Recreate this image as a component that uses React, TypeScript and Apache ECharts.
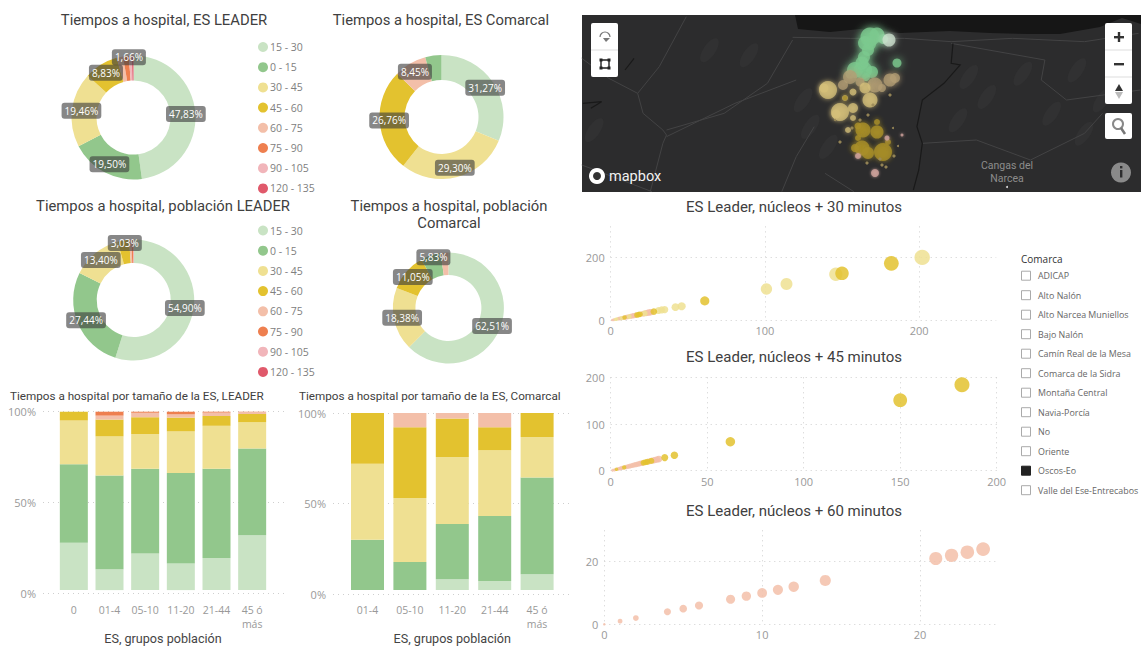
import React, { useEffect, useRef } from "react";
import * as echarts from "echarts";

const ranges = ["15 - 30", "0 - 15", "30 - 45", "45 - 60", "60 - 75", "75 - 90", "90 - 105", "120 - 135"];
const rangeColors = ["#c9e3c4", "#92c78c", "#efe092", "#e3c22f", "#f3bfa9", "#ee7f4f", "#f1b5ba", "#e0596b"];

const esLeaderPie = [47.83, 19.5, 19.46, 8.83, 1.66, 1.5, 0.8, 0.42];
const esComarcalNames = ["15 - 30", "30 - 45", "45 - 60", "60 - 75", "0 - 15"];
const esComarcalPie = [31.27, 29.3, 26.76, 8.45, 4.22];
const popLeaderPie = [54.9, 27.44, 13.4, 3.03, 0.6, 0.4, 0.15, 0.08];
const popComarcalNames = ["15 - 30", "30 - 45", "45 - 60", "0 - 15", "60 - 75"];
const popComarcalPie = [62.51, 18.38, 11.05, 5.83, 2.23];

const leaderCats = ["0", "01-4", "05-10", "11-20", "21-44", "45 ó\nmás"];
const leader1530 = [26.6, 11.7, 20.5, 14.9, 18, 30.8];
const leader015 = [44, 52.5, 47.5, 50.8, 50, 48.6];
const leader3045 = [24.4, 22, 19.5, 23.3, 24.1, 14.7];
const leader4560 = [5, 9.4, 9.4, 7.7, 5.5, 4.6];
const leader6075 = [0, 2.2, 2.5, 1.8, 1.9, 1.1];
const leader7590 = [0, 2.2, 0.6, 1.5, 0.5, 0.2];

const comarcalCats = ["01-4", "05-10", "11-20", "21-44", "45 ó\nmás"];
const comarcal1530 = [0, 0, 6.1, 5.1, 9];
const comarcal015 = [28.5, 15.8, 31.2, 36.8, 54.6];
const comarcal3045 = [42.8, 36.2, 37.9, 37.1, 22.8];
const comarcal4560 = [28.7, 39.9, 21.7, 13, 13.6];
const comarcal6075 = [0, 8.1, 3.1, 8, 0];

const min30Light = [[202, 201], [146, 147], [114, 116], [101, 100], [46, 45], [42, 42], [35, 34], [33, 33], [31, 31], [22, 22], [12, 12], [7, 7], [4, 4], [3, 3]];
const min30Dark = [[182, 182], [150, 150], [61, 62], [28, 28], [19, 19], [18, 18], [17, 17], [9, 9]];
const min30Salmon = [[26, 26], [25, 25], [24, 24], [23, 23], [21, 21], [16, 16], [15, 15], [14, 14], [13, 13], [11, 11], [10, 10], [8, 8], [6, 6], [5, 5], [2, 2], [1, 1]];

const min45Dark = [[182, 184], [150, 151], [62, 62], [33, 33], [28, 28], [21, 21], [19, 19], [18, 18], [17, 17], [7, 7], [3, 3]];
const min45Salmon = [[25, 25], [24, 24], [23, 23], [22, 22], [20, 20], [16, 16], [15, 15], [14, 14], [13, 13], [12, 12], [11, 11], [10, 10], [9, 9], [8, 8], [6, 6], [5, 5], [4, 4], [2, 2], [1, 1]];

const min60Salmon = [[0, 0], [1, 1], [2, 2], [4, 4], [5, 5], [6, 6], [8, 8], [9, 9], [10, 10], [11, 11], [12, 12], [14, 14], [21, 21], [22, 22], [23, 23], [24, 24]];

const comarcas = ["ADICAP", "Alto Nalón", "Alto Narcea Muniellos", "Bajo Nalón", "Camín Real de la Mesa", "Comarca de la Sidra", "Montaña Central", "Navia-Porcía", "No", "Oriente", "Oscos-Eo", "Valle del Ese-Entrecabos"];
const comarcaSelected = "Oscos-Eo";

// x, y in map units, bubble diameter
const mapGreen = [[70, 17, 19], [77, 15, 15], [65, 23, 14], [70, 24, 12], [68, 30, 12], [64, 37, 12], [62, 43, 13], [55, 50, 16], [63, 50, 18], [72, 52, 12], [50, 54, 9], [66, 57, 8], [97, 43, 9], [83, 19, 10]];
const mapPale = [[89, 20, 13]];
const mapLight = [[28, 70, 18], [24, 68, 9], [40, 92, 18], [36, 94, 9], [70, 80, 15], [53, 72, 7], [53, 88, 10], [65, 68, 11], [45, 78, 6], [53, 98, 6], [48, 110, 6]];
const mapTan = [[50, 57, 14], [43, 65, 10], [75, 65, 15], [90, 60, 13], [95, 58, 10], [60, 62, 9], [82, 68, 8]];
const mapDark = [[63, 110, 15], [58, 106, 7], [77, 112, 13], [77, 102, 6], [58, 118, 6], [62, 128, 15], [68, 133, 12], [83, 132, 18], [88, 122, 6], [55, 128, 8], [45, 78, 5]];
const mapRose = [[75, 153, 8], [87, 118, 5], [58, 136, 6], [102, 115, 3]];
const mapSmall = [[93, 108, 2], [98, 126, 2], [82, 145, 3], [86, 147, 3], [67, 143, 3], [80, 139, 3], [94, 136, 3], [52, 108, 3], [40, 122, 3], [35, 100, 2], [60, 100, 3], [68, 95, 3], [73, 85, 3], [90, 75, 3]];

const DIN = "Roboto, 'Noto Sans', sans-serif";
const SEGOE = "'Open Sans', 'Noto Sans', sans-serif";
const colorOf = (n: string) => rangeColors[ranges.indexOf(n)];
const pct = (v: number) => v.toFixed(2).replace(".", ",") + "%";

function pie(names: string[], vals: number[], center: number[], radius: number[], minLabel: number, shifts: Record<number, number[]>) {
  return {
    type: "pie", center, radius, startAngle: 90, avoidLabelOverlap: false, silent: true,
    label: {
      show: true, position: "inside", color: "#fff", fontFamily: SEGOE, fontSize: 10,
      backgroundColor: "rgba(62,62,62,0.62)", padding: [3, 3], borderRadius: 3,
      formatter: (p: any) => pct(p.value),
    },
    labelLine: { show: false },
    labelLayout: (p: any) => { const s = shifts[p.dataIndex]; return s ? { dx: s[0], dy: s[1] } : {}; },
    data: names.map((n, i) => ({
      name: n, value: vals[i], itemStyle: { color: colorOf(n) },
      label: { show: vals[i] >= minLabel },
    })),
  };
}

function legend(top: number) {
  return {
    orient: "vertical", left: 253, top, icon: "circle", itemWidth: 10, itemHeight: 10, itemGap: 9.2,
    selectedMode: false, data: ranges,
    textStyle: { color: "#808080", fontSize: 10.5, fontFamily: SEGOE, padding: [0, 0, 0, -3] },
  };
}

function stack(name: string, data: number[], xi: number) {
  return {
    type: "bar", name, stack: "s" + xi, xAxisIndex: xi, yAxisIndex: xi, barWidth: xi === 1 ? 28 : 33,
    itemStyle: { color: colorOf(name) }, silent: true, data,
  };
}

function scatter(data: number[][], color: string, ax: number, size: (v: number) => number, z = 3) {
  return {
    type: "scatter", xAxisIndex: ax, yAxisIndex: ax, data, z, silent: true,
    symbolSize: (v: number[]) => size(v[0]),
    itemStyle: { color, opacity: 0.85 },
  };
}

function mapDots(data: number[][], color: string, blur: number, opacity: number) {
  return {
    type: "scatter", xAxisIndex: 7, yAxisIndex: 7, data, silent: true,
    symbolSize: (v: number[]) => v[2],
    itemStyle: { color, opacity, shadowBlur: blur, shadowColor: color },
  };
}

const axisText = { color: "#999", fontSize: 11, fontFamily: SEGOE };
const dotted = { show: true, lineStyle: { color: "#cfcfcf", type: [1, 4], width: 1 } };

function valX(gi: number, max: number, interval: number, margin = 5) {
  return {
    type: "value", gridIndex: gi, min: 0, max, interval,
    axisLine: { show: false }, axisTick: { show: false },
    axisLabel: { ...axisText, margin, showMaxLabel: max % interval === 0 },
    splitLine: { ...dotted, showMaxLine: max % interval === 0 },
  };
}
function valY(gi: number, max: number, interval: number, margin = 6) {
  return {
    type: "value", gridIndex: gi, min: 0, max, interval,
    axisLine: { show: false }, axisTick: { show: false },
    axisLabel: { ...axisText, margin, showMaxLabel: max % interval === 0 },
    splitLine: { ...dotted, showMaxLine: max % interval === 0 },
  };
}
function hiddenX(gi: number) { return { type: "value", gridIndex: gi, min: 0, max: 1, show: false }; }
function hiddenY(gi: number) { return { type: "value", gridIndex: gi, min: 0, max: 100, show: false }; }
function catX(gi: number, cats: string[]) {
  return {
    type: "category", gridIndex: gi, data: cats, name: "ES, grupos población", nameLocation: "middle", nameGap: 39,
    nameTextStyle: { color: "#444", fontSize: 12.6, fontFamily: DIN },
    axisLine: { show: false }, axisTick: { show: false },
    axisLabel: { ...axisText, fontSize: 10.5, margin: 13, lineHeight: 14, interval: 0, verticalAlign: "top" },
  };
}
function pctY(gi: number) {
  return {
    type: "value", gridIndex: gi, min: 0, max: 100, interval: 50,
    axisLine: { show: false }, axisTick: { show: false },
    axisLabel: { ...axisText, margin: 7, formatter: "{value}%" },
    splitLine: dotted,
  };
}

function title(text: string, x: number, y: number, size = 14.8, align = "center") {
  return {
    text, left: x, top: y, textAlign: align,
    textStyle: { color: "#404040", fontSize: size, fontWeight: 400, fontFamily: DIN, lineHeight: 17 },
    padding: 0,
  };
}

function line(points: number[][], stroke = "#434344", lw = 1) {
  return { type: "polyline", shape: { points: points.map(([x, y]) => [x / 2.775 + 580, y / 3]) }, style: { stroke, lineWidth: lw, fill: "none" }, silent: true };
}

function mapGraphics() {
  const g: any[] = [];
  g.push({ type: "rect", shape: { x: 582, y: 15, width: 559, height: 177 }, style: { fill: "#2c2c2d" }, silent: true });
  g.push({
    type: "polygon", silent: true, style: { fill: "#161616" },
    shape: { points: [[795, 15], [798, 29], [830, 32], [860, 29], [900, 33], [950, 31], [990, 33], [1030, 34], [1060, 34], [1100, 27], [1122, 18], [1141, 24], [1141, 15]] },
  });
  const patches = [[470, 165], [620, 300], [1080, 230], [1130, 290], [1230, 220], [1380, 210], [1400, 400], [1050, 360], [690, 440], [640, 380], [1450, 300], [360, 150], [40, 390], [1310, 340]];
  patches.forEach(([x, y]) => g.push({ type: "ellipse", shape: { cx: x / 2.775 + 580, cy: y / 3, rx: 6, ry: 14 }, rotation: -0.6, originX: x / 2.775 + 580, originY: y / 3, style: { fill: "#313132" }, silent: true }));
  [
    [[590, 112], [750, 115], [900, 115], [1030, 125], [1200, 115], [1400, 125], [1550, 100]],
    [[295, 50], [220, 200], [160, 280], [80, 235], [5, 175]],
    [[160, 280], [175, 340], [230, 390], [240, 405], [230, 430], [195, 575]],
    [[240, 390], [400, 340], [520, 250], [590, 120]],
    [[240, 410], [430, 310], [600, 240]],
    [[5, 495], [200, 575]],
    [[1030, 130], [1290, 180], [1280, 240], [1350, 300], [1555, 270]],
    [[950, 430], [1100, 420], [1250, 480], [1400, 400], [1450, 340]],
    [[650, 380], [600, 470], [560, 575]],
    [[680, 520], [760, 575]],
  ].forEach((p) => g.push(line(p as number[][])));
  [
    [[125, 210], [150, 175]],
    [[8, 310], [60, 305], [30, 325]],
    [[1035, 130], [1030, 190], [1055, 195], [1010, 250], [950, 300], [935, 380], [950, 430], [940, 510], [925, 570]],
  ].forEach((p) => g.push(line(p as number[][], "#191919", 1.2)));

  // controls
  const white = "#fff";
  g.push({ type: "rect", shape: { x: 591, y: 23, width: 27, height: 54, r: 2 }, style: { fill: white }, silent: true });
  g.push({ type: "line", shape: { x1: 591, y1: 50, x2: 618, y2: 50 }, style: { stroke: "#ddd" }, silent: true });
  g.push({ type: "arc", shape: { cx: 605, cy: 37, r: 5, startAngle: Math.PI, endAngle: 0 }, style: { stroke: "#777", lineWidth: 1.2, fill: "none" }, silent: true });
  g.push({ type: "polygon", shape: { points: [[603, 38], [610, 38], [606, 42]] }, style: { fill: "#777" }, silent: true });
  g.push({ type: "rect", shape: { x: 601, y: 60, width: 8, height: 8 }, style: { stroke: "#222", lineWidth: 1.4, fill: "none" }, silent: true });
  [[601, 60], [609, 60], [601, 68], [609, 68]].forEach(([cx, cy]) => g.push({ type: "rect", shape: { x: cx - 1.5, y: cy - 1.5, width: 3, height: 3 }, style: { fill: "#222" }, silent: true }));

  g.push({ type: "rect", shape: { x: 1105, y: 23, width: 27, height: 81, r: 2 }, style: { fill: white }, silent: true });
  g.push({ type: "line", shape: { x1: 1105, y1: 50, x2: 1132, y2: 50 }, style: { stroke: "#ddd" }, silent: true });
  g.push({ type: "line", shape: { x1: 1105, y1: 77, x2: 1132, y2: 77 }, style: { stroke: "#ddd" }, silent: true });
  g.push({ type: "rect", shape: { x: 1114, y: 36, width: 10, height: 2.4 }, style: { fill: "#333" }, silent: true });
  g.push({ type: "rect", shape: { x: 1117.8, y: 32, width: 2.4, height: 10 }, style: { fill: "#333" }, silent: true });
  g.push({ type: "rect", shape: { x: 1114, y: 63, width: 10, height: 2.4 }, style: { fill: "#333" }, silent: true });
  g.push({ type: "polygon", shape: { points: [[1119, 84], [1123, 91], [1115, 91]] }, style: { fill: "#333" }, silent: true });
  g.push({ type: "polygon", shape: { points: [[1119, 99], [1123, 92], [1115, 92]] }, style: { fill: "#bbb" }, silent: true });
  g.push({ type: "rect", shape: { x: 1105, y: 113, width: 27, height: 26, r: 2 }, style: { fill: white }, silent: true });
  g.push({ type: "circle", shape: { cx: 1118, cy: 124, r: 5 }, style: { stroke: "#888", lineWidth: 2, fill: "none" }, silent: true });
  g.push({ type: "line", shape: { x1: 1121, y1: 128, x2: 1125, y2: 134 }, style: { stroke: "#777", lineWidth: 2.5 }, silent: true });
  g.push({ type: "circle", shape: { cx: 1121, cy: 172.5, r: 10 }, style: { fill: "#8a8a8a" }, silent: true });
  g.push({ type: "rect", shape: { x: 1120, y: 170, width: 2.4, height: 7.5 }, style: { fill: "#2d2d2e" }, silent: true });
  g.push({ type: "rect", shape: { x: 1120, y: 166, width: 2.4, height: 2.4 }, style: { fill: "#2d2d2e" }, silent: true });
  g.push({ type: "circle", shape: { cx: 597, cy: 176, r: 8 }, style: { fill: "#fff" }, silent: true });
  g.push({ type: "circle", shape: { cx: 597, cy: 176, r: 4 }, style: { fill: "#333" }, silent: true });
  g.push({ type: "text", x: 609, y: 176, silent: true, style: { text: "mapbox", fill: "#f2f2f2", font: `400 14.5px ${DIN}`, textVerticalAlign: "middle" } });
  g.push({ type: "text", x: 1007, y: 172, silent: true, style: { text: "Cangas del\nNarcea", fill: "#8c8c8c", font: `10.5px ${DIN}`, textAlign: "center", textVerticalAlign: "middle", lineHeight: 13 } });
  g.push({ type: "circle", shape: { cx: 1007, cy: 187, r: 1 }, style: { fill: "#ddd" }, silent: true });
  return g;
}

function slicerGraphics() {
  const g: any[] = [];
  g.push({ type: "text", x: 1021, y: 259, silent: true, style: { text: "Comarca", fill: "#333", font: `10px ${SEGOE}`, textVerticalAlign: "middle" } });
  comarcas.forEach((c, i) => {
    const y = 275.7 + i * 19.5;
    const on = c === comarcaSelected;
    g.push({ type: "rect", silent: true, shape: { x: 1021.5, y: y - 4.5, width: 9, height: 9 }, style: { fill: on ? "#222" : "#fff", stroke: on ? "#222" : "#aaa", lineWidth: 1 } });
    g.push({ type: "text", x: 1038, y, silent: true, style: { text: c, fill: "#666", font: `8.9px ${SEGOE}`, textVerticalAlign: "middle" } });
  });
  return g;
}

export default function App() {
  const ref = useRef<HTMLDivElement>(null);
  useEffect(() => {
    document.body.style.margin = "0";
    const chart = echarts.init(ref.current!, undefined, { renderer: "svg" });
    const sq30 = (v: number) => Math.sqrt(v) * 0.98 + 1.5;
    const sq45 = (v: number) => Math.sqrt(v) * 0.98 + 1.8;
    const sq60 = (v: number) => 2.5 + 2.3 * Math.sqrt(v);
    const yL = rangeColors[2], yD = rangeColors[3], sa = rangeColors[4];
    chart.setOption({
      animation: false,
      backgroundColor: "#fff",
      title: [
        title("Tiempos a hospital, ES LEADER", 164, 11),
        title("Tiempos a hospital, ES Comarcal", 441, 11),
        title("Tiempos a hospital, población LEADER", 163, 197),
        title("Tiempos a hospital, población\nComarcal", 449, 197),
        title("Tiempos a hospital por tamaño de la ES, LEADER", 10, 387, 11.7, "left"),
        title("Tiempos a hospital por tamaño de la ES, Comarcal", 299, 387, 11.7, "left"),
        title("ES Leader, núcleos + 30 minutos", 794, 198, 15),
        title("ES Leader, núcleos + 45 minutos", 794, 348, 15),
        title("ES Leader, núcleos + 60 minutos", 794, 502, 15),
      ],
      legend: [legend(36.5), legend(220)],
      grid: [
        { left: 43, top: 411.7, width: 244, height: 181.6 },
        { left: 56, top: 411.7, width: 214, height: 181.6 },
        { left: 333, top: 413, width: 239, height: 181.3 },
        { left: 346.3, top: 413, width: 212, height: 181.3 },
        { left: 610.7, top: 226.4, width: 385.5, height: 93.9 },
        { left: 610.7, top: 377.3, width: 386, height: 93.4 },
        { left: 604.3, top: 530.3, width: 394.6, height: 94 },
        { left: 800, top: 20, width: 130, height: 170 },
      ],
      xAxis: [
        hiddenX(0), catX(1, leaderCats), hiddenX(2), catX(3, comarcalCats),
        valX(4, 250, 100), valX(5, 200, 50), valX(6, 25, 10),
        { type: "value", gridIndex: 7, min: 0, max: 130, show: false },
      ],
      yAxis: [
        pctY(0), hiddenY(1), pctY(2), hiddenY(3),
        valY(4, 300, 200), valY(5, 200, 100), valY(6, 30, 20),
        { type: "value", gridIndex: 7, min: 0, max: 170, inverse: true, show: false },
      ],
      graphic: { elements: [...mapGraphics(), ...slicerGraphics()] },
      series: [
        pie(ranges, esLeaderPie, [133.5, 117.5], [37, 62], 1.6, { 4: [7, -9] }),
        pie(esComarcalNames, esComarcalPie, [441.5, 117], [37, 62], 5, {}),
        pie(ranges, popLeaderPie, [133.7, 300], [37, 60.5], 3, { 3: [0, -6] }),
        pie(popComarcalNames, popComarcalPie, [448.4, 308], [33, 55.5], 5, { 3: [0, -6] }),

        stack("15 - 30", leader1530, 1), stack("0 - 15", leader015, 1), stack("30 - 45", leader3045, 1),
        stack("45 - 60", leader4560, 1), stack("60 - 75", leader6075, 1), stack("75 - 90", leader7590, 1),
        stack("15 - 30", comarcal1530, 3), stack("0 - 15", comarcal015, 3), stack("30 - 45", comarcal3045, 3),
        stack("45 - 60", comarcal4560, 3), stack("60 - 75", comarcal6075, 3),

        scatter(min30Salmon, sa, 4, sq30), scatter(min30Light, yL, 4, sq30), scatter(min30Dark, yD, 4, sq30),
        scatter(min45Salmon, sa, 5, sq45), scatter(min45Dark, yD, 5, sq45),
        scatter(min60Salmon, sa, 6, sq60),

        mapDots(mapGreen, "#7cc98f", 8, 0.8), mapDots(mapPale, "#cfe3d0", 7, 0.75),
        mapDots(mapTan, "#b39e74", 6, 0.75), mapDots(mapLight, "#d6c07a", 5, 0.75),
        mapDots(mapDark, "#a98f28", 5, 0.8), mapDots(mapRose, "#cfa39c", 3, 0.8),
        mapDots(mapSmall, "#9c8b58", 1, 0.7),
      ],
    });
    return () => chart.dispose();
  }, []);
  return <div ref={ref} style={{ width: 1145, height: 646 }} />;
}
